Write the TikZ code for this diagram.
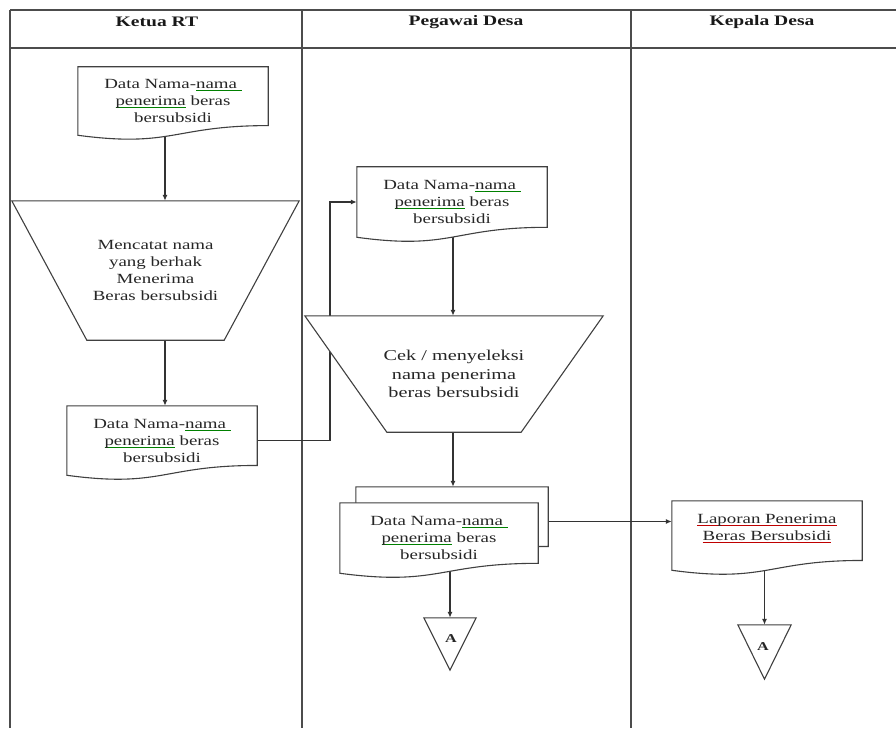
\documentclass[tikz,border=0pt]{standalone}
\usepackage{fontspec}
\setmainfont{Liberation Serif}[FakeStretch=1.35]
\usetikzlibrary{arrows.meta,calc}
\pgfdeclarelayer{wires}
\pgfdeclarelayer{shapes}
\pgfsetlayers{wires,shapes,main}

% spell/grammar marks under words: a coloured rule at a fixed depth
\newcommand{\markunder}[2]{\setbox0\hbox{#2}\rlap{\textcolor{#1}{\rule[-2.6pt]{\wd0}{0.8pt}}}\box0\relax}
\newcommand{\gu}[1]{\markunder{green!50!black}{#1}}
\newcommand{\ru}[1]{\markunder{red!75!black}{#1}}

\tikzset{
  lane/.style={line width=1.2pt, draw=black!70},
  shapeline/.style={draw=black!75, line width=1.1pt, fill=white},
  wire/.style={draw=black!80, line width=1.2pt},
  arr/.style={wire, -{Latex[length=6pt,width=5pt]}},
  box/.style={draw=none, inner sep=0pt, align=center, text=black!85},
  doctext/.style={font=\fontsize{14}{17}\selectfont},
  head/.style={font=\fontsize{14.5}{16}\selectfont\bfseries, text=black!90},
}

% document symbol: the node box covers the part above the wavy edge
\newcommand{\docoutline}[1]{%
  \begin{pgfonlayer}{shapes}
  \draw[shapeline] let \p1=(#1.north west), \p2=(#1.south east),
      \n1={(\y1-\y2)/0.933} in
    (\x1,\y1) -- (\x2,\y1) -- (\x2,{\y1-0.802*\n1})
    .. controls ({0.5*(\x1+\x2)},{\y1-0.802*\n1}) and ({0.5*(\x1+\x2)},{\y1-1.107*\n1})
    .. (\x1,{\y1-0.934*\n1}) -- cycle;
  \end{pgfonlayer}}

% manual operation symbol (wide top, narrow bottom)
\newcommand{\trapoutline}[2]{%
  \begin{pgfonlayer}{shapes}
  \draw[shapeline] (#1.north west) -- (#1.north east) -- ([xshift=-#2]#1.south east)
    -- ([xshift=#2]#1.south west) -- cycle;
  \end{pgfonlayer}}

% off-page connector (downward triangle)
\newcommand{\trioutline}[1]{%
  \begin{pgfonlayer}{shapes}
  \draw[shapeline] (#1.north west) -- (#1.north east) -- (#1.south) -- cycle;
  \end{pgfonlayer}}

\begin{document}
\begin{tikzpicture}[x=1pt,y=-1pt]
\useasboundingbox (0,0) rectangle (896,730);

% swimlane frame
\begin{pgfonlayer}{wires}
\draw[lane] (10,10) -- (896,10);
\draw[lane] (10,48) -- (896,48);
\draw[lane] (10,10) -- (10,728);
\draw[lane] (302,10) -- (302,728);
\draw[lane] (631,10) -- (631,728);
\end{pgfonlayer}

\node[head] (h1) at (157,22) {Ketua RT};
\node[head] (h2) at (466,22) {Pegawai Desa};
\node[head] (h3) at (762,22) {Kepala Desa};

% Ketua RT
\node[box, doctext, minimum width=190pt, minimum height=68pt] (d1) at (173,101)
  {Data Nama-\gu{nama~}\\\gu{penerima} beras\\bersubsidi};
\docoutline{d1}

\node[box, doctext, minimum width=287pt, minimum height=139pt] (t1) at (155.5,270.5)
  {Mencatat nama\\yang berhak\\Menerima\\Beras bersubsidi};
\trapoutline{t1}{75}

\node[box, doctext, minimum width=190pt, minimum height=69pt] (d2) at (162,440.5)
  {Data Nama-\gu{nama~}\\\gu{penerima} beras\\bersubsidi};
\docoutline{d2}

% Pegawai Desa
\node[box, doctext, minimum width=190pt, minimum height=70pt] (d3) at (452,202)
  {Data Nama-\gu{nama~}\\\gu{penerima} beras\\bersubsidi};
\docoutline{d3}

\node[box, font=\fontsize{15}{18.5}\selectfont, minimum width=298pt, minimum height=116pt] (t2) at (454,374)
  {Cek / menyeleksi\\nama penerima\\beras bersubsidi};
\trapoutline{t2}{82}

\node[box, minimum width=192pt, minimum height=69pt] (md) at (452,521.5) {};
\docoutline{md}
\node[box, doctext, minimum width=198pt, minimum height=70pt] (mf) at (439,538)
  {Data Nama-\gu{nama~}\\\gu{penerima} beras\\bersubsidi};
\docoutline{mf}

\node[box, minimum width=52pt, minimum height=52pt] (tA1) at (450,644) {};
\trioutline{tA1}
\node[font=\fontsize{12}{14}\selectfont\bfseries, text=black!85] (a1) at (451,639) {A};

% Kepala Desa
\node[box, doctext, minimum width=190pt, minimum height=69pt] (lap) at (767,535.5)
  {\ru{Laporan Penerima}\\\ru{Beras Bersubsidi}\\\mbox{}};
\docoutline{lap}

\node[box, minimum width=53pt, minimum height=54pt] (tA2) at (764.5,652) {};
\trioutline{tA2}
\node[font=\fontsize{12}{14}\selectfont\bfseries, text=black!85] (a2) at (763,647) {A};

% connectors
\coordinate (c1) at (165,0);
\coordinate (c2) at (330,0);
\coordinate (c3) at (453,0);
\begin{pgfonlayer}{wires}
\draw[arr] (d1.center -| c1) -- (t1.north -| c1);
\draw[arr] (t1.center -| c1) -- (d2.north -| c1);
\draw[arr] (d2.east) -| (c2 |- d3.west) -- (d3.west);
\draw[arr] (d3.center -| c3) -- (t2.north -| c3);
\draw[arr] (t2.center -| c3) -- (md.north -| c3);
\draw[arr] (md.east) -- (md.east -| lap.west);
\draw[arr] (mf.center -| tA1.north) -- (tA1.north);
\draw[arr] (lap.center -| tA2.north) -- (tA2.north);
\end{pgfonlayer}
\end{tikzpicture}
\end{document}
